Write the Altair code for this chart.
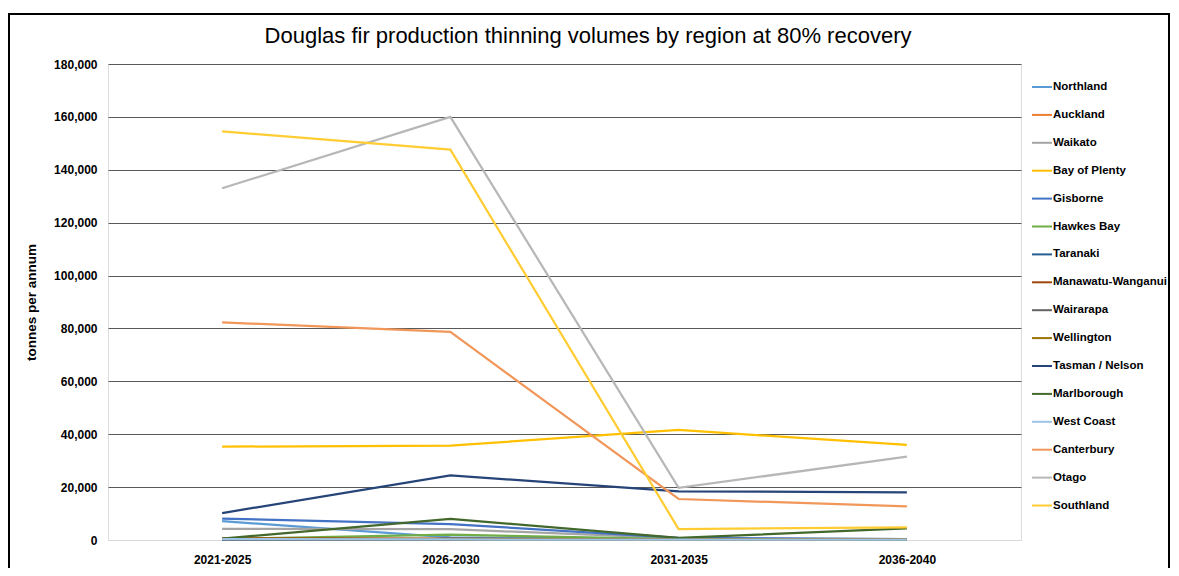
import altair as alt
import pandas as pd

periods = ["2021-2025", "2026-2030", "2031-2035", "2036-2040"]

regions = [
    "Northland", "Auckland", "Waikato", "Bay of Plenty", "Gisborne", "Hawkes Bay",
    "Taranaki", "Manawatu-Wanganui", "Wairarapa", "Wellington", "Tasman / Nelson",
    "Marlborough", "West Coast", "Canterbury", "Otago", "Southland",
]

colors = [
    "#5B9BD5", "#ED7D31", "#A5A5A5", "#FFC000", "#4472C4", "#70AD47",
    "#255E91", "#9E480E", "#636363", "#997300", "#264478",
    "#43682B", "#9DC3E6", "#F1975A", "#B7B7B7", "#FFCD33",
]

title_text = "Douglas fir production thinning volumes by region at 80% recovery"

northland = [7100, 1000, 300, 200]
auckland = [300, 300, 200, 300]
waikato = [4200, 4100, 700, 300]
bay_of_plenty = [35300, 35700, 41600, 36000]
gisborne = [8100, 6000, 800, 300]
hawkes_bay = [400, 2000, 300, 200]
taranaki = [100, 100, 100, 100]
manawatu_wanganui = [600, 500, 200, 200]
wairarapa = [100, 100, 100, 100]
wellington = [400, 300, 200, 200]
tasman_nelson = [10200, 24400, 18400, 18000]
marlborough = [500, 8000, 800, 4400]
west_coast = [300, 200, 100, 100]
canterbury = [82300, 78700, 15500, 12700]
otago = [133000, 160000, 19700, 31500]
southland = [154500, 147600, 4100, 4800]

series = [
    northland, auckland, waikato, bay_of_plenty, gisborne, hawkes_bay,
    taranaki, manawatu_wanganui, wairarapa, wellington, tasman_nelson,
    marlborough, west_coast, canterbury, otago, southland,
]

rows = []
for i, (name, vals) in enumerate(zip(regions, series)):
    for p, v in zip(periods, vals):
        rows.append({"region": name, "period": p, "value": v, "idx": i})
df = pd.DataFrame(rows)
one = pd.DataFrame({"t": [title_text]})

FONT = "Liberation Sans"

lines = alt.Chart(df).mark_line(strokeWidth=2.25).encode(
    x=alt.X(
        "period:N",
        sort=periods,
        axis=alt.Axis(
            title=None, labelAngle=0, ticks=False, domainColor="#D9D9D9",
            domainWidth=1, labelFont=FONT, labelFontSize=12, labelFontWeight="bold",
            labelColor="#000000", labelPadding=14, grid=False,
        ),
    ),
    y=alt.Y(
        "value:Q",
        scale=alt.Scale(domain=[0, 180000], nice=False),
        axis=alt.Axis(
            title="tonnes per annum", values=list(range(0, 180001, 20000)), format=",.0f",
            ticks=False, domain=False, labelFont=FONT, labelFontSize=12,
            labelFontWeight="bold", labelColor="#000000", labelPadding=11,
            gridColor=alt.condition("datum.value == 0", alt.value("#D9D9D9"), alt.value("#595959")),
            gridWidth=1, titleFont=FONT, titleFontSize=13.5, titleFontWeight="bold",
            titleColor="#000000", titlePadding=15,
        ),
    ),
    color=alt.Color(
        "region:N",
        sort=regions,
        scale=alt.Scale(domain=regions, range=colors),
        legend=alt.Legend(
            title=None, orient="none", legendX=923, legendY=12, symbolType="stroke",
            symbolSize=400, symbolStrokeWidth=2, labelFont=FONT, labelFontSize=11.5,
            labelFontWeight="bold", labelColor="#000000", rowPadding=10.9, padding=0,
            labelOffset=0, labelLimit=200,
        ),
    ),
    order=alt.Order("idx:Q"),
    detail="region:N",
)

border = alt.Chart(one).mark_rect(filled=False, stroke="#000000", strokeWidth=2).encode(
    x=alt.value(-99), x2=alt.value(1061), y=alt.value(-50), y2=alt.value(530),
)

title = alt.Chart(one).mark_text(
    font=FONT, fontSize=22, color="#000000", align="center", baseline="middle",
).encode(
    x=alt.value(480), y=alt.value(-28), text="t:N",
)

chart = alt.layer(border, lines, title).properties(
    width=913,
    height=476,
    autosize=alt.AutoSizeParams(type="none"),
    padding={"left": 100, "top": 56, "right": 150, "bottom": 28},
).configure_view(stroke=None).configure(background="white")

chart.save("out.html", embed_options={"renderer": "svg", "actions": False})
